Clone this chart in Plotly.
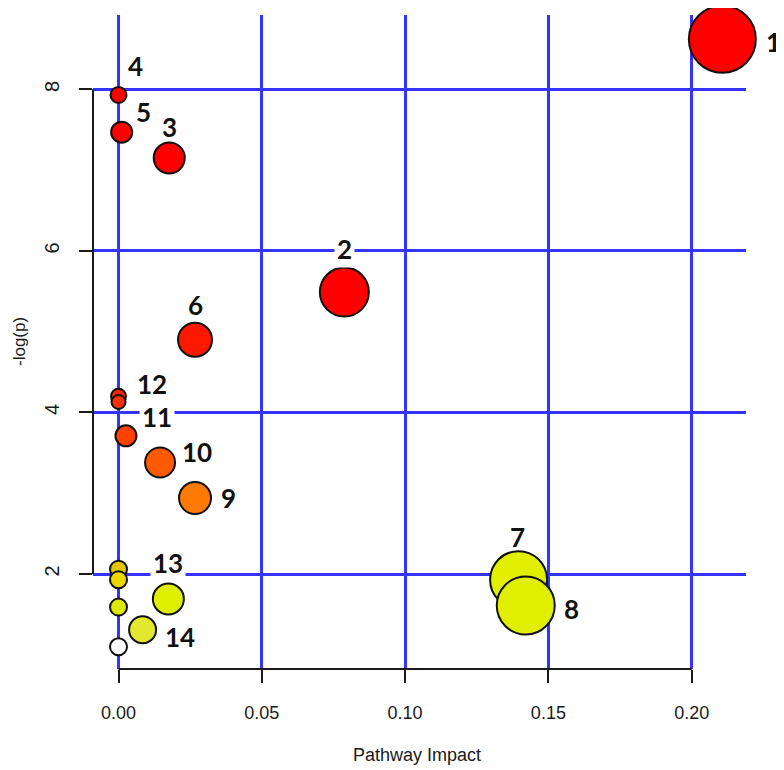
import plotly.graph_objects as go

# ---- data ----
pathway_impact = [0.2107, 0.0788, 0.0177, 0.0000, 0.0011, 0.0267, 0.0000, 0.0000,
                  0.0026, 0.0145, 0.0267, 0.0000, 0.0000, 0.1396, 0.1421, 0.0000,
                  0.0174, 0.0084, 0.0000]
neg_log_p = [8.62, 5.49, 7.15, 7.93, 7.47, 4.90, 4.20, 4.13,
             3.71, 3.38, 2.94, 2.06, 1.93, 1.93, 1.61, 1.59,
             1.69, 1.31, 1.10]
labels = ["1", "2", "3", "4", "5", "6", "", "12",
          "11", "10", "9", "", "", "7", "8", "",
          "13", "14", ""]
bubble_diam = [67, 49, 31, 16, 21, 34, 15, 14,
               21, 30, 32, 17, 17, 57, 58, 17,
               31, 27, 17]
bubble_color = ["#ff0000", "#ff0000", "#ff0000", "#ff0000", "#ff0000", "#ff1800", "#ff2400", "#ff3000",
                "#ff4200", "#ff5a00", "#ff7a00", "#e2c400", "#ecd800", "#e2f000", "#e0ee00", "#dcea00",
                "#def000", "#e2e830", "#ffffff"]
# label offsets in pixels relative to each bubble centre
label_dx = [51, 0, 0, 17, 22, 0, 0, 33, 31, 37, 33, 0, 0, -1, 46, 0, 0, 37, 0]
label_dy = [-3, 43, 31, 29, 20, 35, 0, 18, 19, 11, 0, 0, 0, 43, -3, 0, 36, -7, 0]
label_bg = [None, "white", None, None, None, None, None, None, "white", None, None,
            None, None, None, None, None, "white", None, None]

x_ticks = [0.0, 0.05, 0.10, 0.15, 0.20]
x_ticktext = ["0.00", "0.05", "0.10", "0.15", "0.20"]
y_ticks = [2, 4, 6, 8]
y_ticktext = ["2", "4", "6", "8"]

GRID = "#3434ff"
AX = "#1a1a1a"

fig = go.Figure()
fig.add_trace(go.Scatter(
    x=pathway_impact, y=neg_log_p, mode="markers",
    marker=dict(size=bubble_diam, color=bubble_color, opacity=1,
                line=dict(color="#111111", width=2)),
    cliponaxis=False, hoverinfo="skip"))

for xi, yi, t, dx, dy, bg in zip(pathway_impact, neg_log_p, labels, label_dx, label_dy, label_bg):
    if not t:
        continue
    fig.add_annotation(x=xi, y=yi, xref="x", yref="y", text="<b>" + t + "</b>",
                       showarrow=False, xshift=dx, yshift=dy,
                       xanchor="center", yanchor="middle",
                       bgcolor=bg if bg else "rgba(0,0,0,0)", borderpad=2,
                       font=dict(family="Lato, Open Sans, sans-serif", size=26, color="#111111"))

# R-style axis lines (only span the tick range)
fig.add_shape(type="line", xref="paper", yref="y", x0=0, x1=0, y0=2, y1=8,
              line=dict(color=AX, width=2))
fig.add_shape(type="line", xref="x", yref="paper", x0=0, x1=0.2, y0=0, y1=0,
              line=dict(color=AX, width=2))

# page has an 8px body margin: plot area spans page px 93..746 (x) and 15..669 (y)
fig.add_annotation(text="Pathway Impact", xref="paper", yref="paper",
                   x=(417 - 93) / 653, y=(669 - 755) / 654, showarrow=False,
                   xanchor="center", yanchor="middle",
                   font=dict(family="Liberation Sans, Arial", size=18, color=AX))
fig.add_annotation(text="-log(p)", xref="paper", yref="paper", textangle=-90,
                   x=(19 - 93) / 653, y=(669 - 342) / 654, showarrow=False,
                   xanchor="center", yanchor="middle",
                   font=dict(family="Liberation Sans, Arial", size=17, color=AX))

fig.update_xaxes(range=[-0.0089, 0.21895], tickvals=x_ticks, ticktext=x_ticktext,
                 showgrid=True, gridcolor=GRID, gridwidth=2.5, zeroline=False,
                 showline=False, ticks="outside", ticklen=13, tickwidth=2, tickcolor=AX,
                 ticklabelstandoff=14, automargin=False,
                 tickfont=dict(family="Liberation Sans, Arial", size=18, color=AX))
fig.update_yaxes(range=[0.824, 8.92], tickvals=y_ticks, ticktext=y_ticktext,
                 showgrid=True, gridcolor=GRID, gridwidth=2.5, zeroline=False,
                 showline=False, ticks="outside", ticklen=13, tickwidth=2, tickcolor=AX,
                 tickangle=-90, ticklabelstandoff=12, automargin=False,
                 tickfont=dict(family="Liberation Sans, Arial", size=20, color=AX))

fig.update_layout(width=776, height=762, margin=dict(l=85, r=38, t=7, b=101),
                  plot_bgcolor="white", paper_bgcolor="white", showlegend=False)

fig.write_html("out.html")
